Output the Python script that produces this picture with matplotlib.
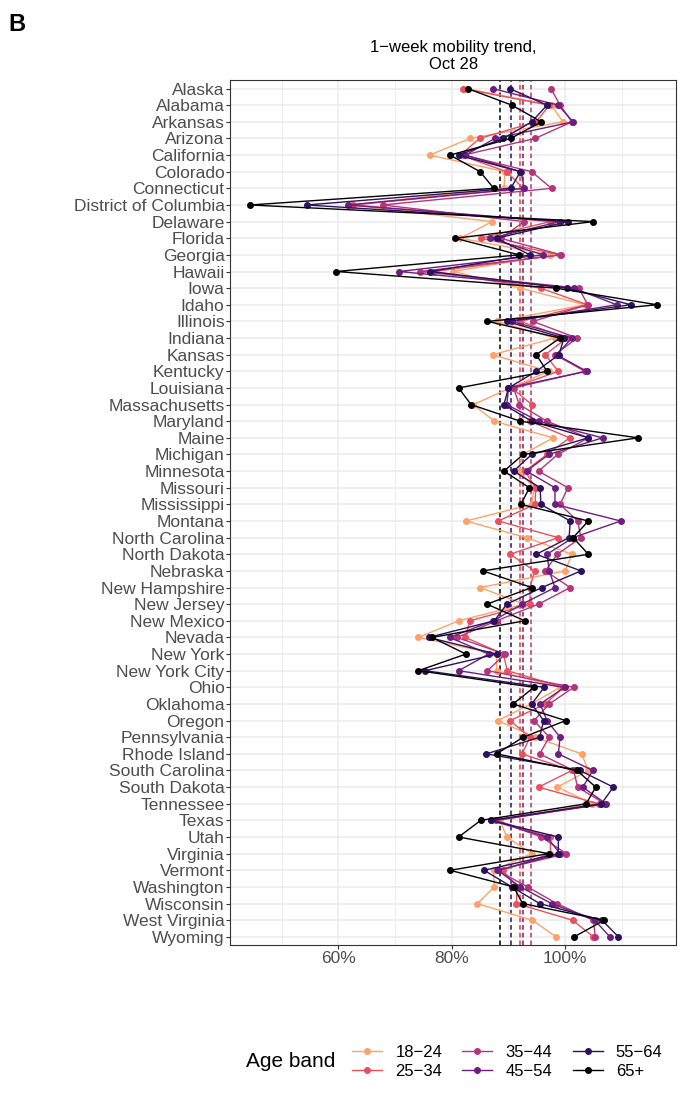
import numpy as np
import matplotlib
matplotlib.use('Agg')
import matplotlib.pyplot as plt
from matplotlib.lines import Line2D
from matplotlib.offsetbox import HPacker

states = ['Alaska', 'Alabama', 'Arkansas', 'Arizona', 'California', 'Colorado', 'Connecticut',
          'District of Columbia', 'Delaware', 'Florida', 'Georgia', 'Hawaii', 'Iowa', 'Idaho',
          'Illinois', 'Indiana', 'Kansas', 'Kentucky', 'Louisiana', 'Massachusetts', 'Maryland',
          'Maine', 'Michigan', 'Minnesota', 'Missouri', 'Mississippi', 'Montana', 'North Carolina',
          'North Dakota', 'Nebraska', 'New Hampshire', 'New Jersey', 'New Mexico', 'Nevada',
          'New York', 'New York City', 'Ohio', 'Oklahoma', 'Oregon', 'Pennsylvania', 'Rhode Island',
          'South Carolina', 'South Dakota', 'Tennessee', 'Texas', 'Utah', 'Virginia', 'Vermont',
          'Washington', 'Wisconsin', 'West Virginia', 'Wyoming']

bands = ['18\u221224', '25\u221234', '35\u221244', '45\u221254', '55\u221264', '65+']
colors = ['#FDA26B', '#E8505F', '#B3367B', '#6E1E80', '#2C115F', '#000000']

# mobility trend, % of baseline
a18_24 = [82.5, 97.6, 99.6, 83.2, 76.1, 89.4, 89.2, 62.3, 87.1, 81.5, 97.4, 80.3, 92.1, 103.5,
          88.0, 98.2, 87.2, 97.1, 90.3, 83.8, 87.5, 97.9, 92.5, 91.8, 94.5, 94.1, 82.5, 93.2,
          101.2, 100.0, 85.0, 92.8, 81.2, 74.1, 87.9, 87.9, 99.1, 94.0, 88.1, 94.7, 102.9,
          104.1, 98.6, 104.8, 88.5, 89.7, 94.1, 87.4, 87.5, 84.5, 94.2, 98.4]
a25_34 = [81.9, 97.2, 94.9, 84.9, 81.5, 89.7, 92.6, 62.6, 97.4, 85.1, 99.1, 76.8, 95.7, 103.9,
          92.1, 100.3, 96.5, 98.8, 90.6, 94.1, 93.8, 100.8, 96.8, 92.9, 94.8, 94.7, 88.2, 98.8,
          90.3, 94.6, 93.8, 93.8, 83.2, 82.4, 89.1, 89.8, 99.7, 96.5, 90.3, 93.8, 92.4,
          101.2, 95.3, 105.9, 87.8, 97.4, 97.4, 89.0, 91.5, 91.4, 101.3, 105.0]
a35_44 = [97.5, 99.1, 101.2, 94.7, 82.1, 94.1, 97.6, 67.8, 92.8, 88.6, 99.3, 74.4, 102.4, 104.0,
          94.3, 102.1, 98.2, 103.5, 90.9, 91.9, 96.8, 104.1, 98.7, 95.3, 100.5, 99.1, 102.2, 102.8,
          98.6, 96.5, 100.9, 95.3, 87.9, 80.9, 89.4, 86.3, 101.5, 97.2, 94.5, 97.2, 95.5,
          101.5, 102.2, 107.0, 87.8, 95.8, 100.2, 88.0, 93.4, 98.5, 105.0, 105.3]
a45_54 = [87.2, 98.8, 101.4, 87.6, 82.4, 92.2, 92.8, 61.6, 99.1, 86.8, 96.1, 70.7, 101.5, 109.1,
          90.6, 101.2, 98.5, 103.8, 90.0, 89.7, 95.3, 106.6, 97.1, 93.2, 98.2, 98.2, 109.8, 101.4,
          96.8, 97.2, 98.2, 92.4, 87.3, 79.6, 86.5, 81.2, 99.9, 95.6, 96.8, 99.1, 98.8,
          104.9, 103.1, 107.2, 87.0, 96.8, 99.1, 88.1, 92.1, 97.6, 105.2, 107.9]
a55_64 = [90.2, 96.8, 94.1, 89.1, 81.2, 92.1, 90.4, 54.4, 100.5, 87.9, 93.8, 76.2, 100.3, 111.6,
          89.7, 99.8, 98.9, 94.9, 90.0, 89.2, 94.1, 104.1, 94.1, 90.9, 95.6, 95.7, 100.9, 100.7,
          94.9, 102.8, 95.9, 89.7, 87.5, 75.9, 87.9, 75.3, 96.3, 94.1, 96.2, 95.5, 86.1,
          102.6, 108.5, 106.4, 86.9, 98.8, 98.8, 85.7, 90.6, 95.5, 106.5, 109.4]
a65 = [82.8, 90.6, 95.8, 90.4, 79.7, 85.0, 87.4, 44.4, 105.0, 80.6, 91.9, 59.6, 98.4, 116.2,
       86.3, 99.1, 94.9, 96.8, 81.2, 83.4, 92.1, 112.9, 92.6, 89.2, 93.7, 92.2, 104.1, 101.4,
       104.1, 85.5, 94.1, 86.2, 92.9, 76.5, 82.5, 74.1, 94.5, 90.8, 100.1, 92.6, 87.9,
       102.1, 105.4, 103.7, 85.1, 81.2, 97.1, 79.7, 90.9, 92.5, 106.9, 101.6]
series = [a18_24, a25_34, a35_44, a45_54, a55_64, a65]
band_means = [92.0, 92.1, 93.9, 92.5, 90.5, 88.5]

plt.rcParams['font.family'] = ['Liberation Sans', 'DejaVu Sans']

fig = plt.figure(figsize=(6.81, 10.99), dpi=100)
ax = fig.add_axes([0.338, 0.14, 0.655, 0.787])

y = np.arange(len(states))
for c, m in zip(colors, band_means):
    ax.axvline(m, color=c, ls=(0, (3, 2)), lw=1.1, zorder=2)
for vals, c in zip(series, colors):
    ax.plot(vals, y, '-o', color=c, lw=1.0, ms=4, zorder=3)

ax.set_ylim(len(states) - 0.5, -0.5)
ax.set_xlim(40.9, 119.6)
ax.set_yticks(y)
ax.set_yticklabels(states, fontsize=12.5, color='#4d4d4d')
ax.set_xticks([60, 80, 100])
ax.set_xticklabels(['60%', '80%', '100%'], fontsize=12.5, color='#4d4d4d')
ax.set_xticks([50, 70, 90, 110], minor=True)
ax.grid(True, which='major', color='#ebebeb', lw=1.1)
ax.grid(True, which='minor', axis='x', color='#ebebeb', lw=0.6)
ax.set_axisbelow(True)
ax.tick_params(axis='both', length=3, color='#333333', pad=1)
ax.tick_params(axis='x', which='minor', length=0)
for s in ax.spines.values():
    s.set_color('#333333')
ax.set_title('1\u2212week mobility trend,\nOct 28', fontsize=12, pad=8)

fig.text(0.012, 0.988, 'B', fontsize=17, fontweight='bold', va='top')

handles = [Line2D([], [], color=c, marker='o', ms=4, lw=1.0) for c in colors]
leg = fig.legend(handles, bands, loc='lower right', bbox_to_anchor=(0.995, 0.005), ncol=3,
                 title='Age band', frameon=False, fontsize=12, handlelength=1.8,
                 columnspacing=1.2, labelspacing=0.2)
leg.get_title().set_fontsize(15)
# title to the left of the entries, as in ggplot
title_box, body = leg._legend_box.get_children()
leg._legend_box._children = [HPacker(pad=0, sep=12, align='center', children=[title_box, body])]

fig.savefig('out.png', dpi=100)
